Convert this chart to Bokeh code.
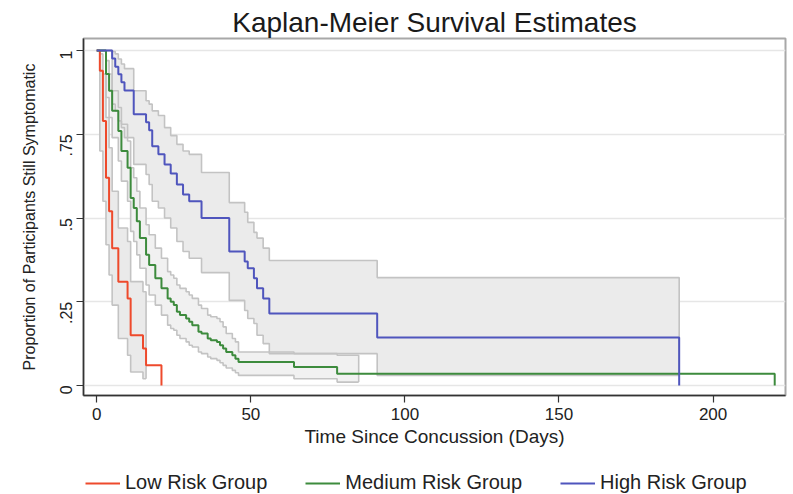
import math
from bokeh.plotting import figure
from bokeh.layouts import column
from bokeh.models import Range1d, FixedTicker, Legend, LegendItem
from bokeh.embed import file_html
from bokeh.resources import INLINE

FONT = "Liberation Sans"

# Kaplan-Meier estimates: event day and survival proportion after that day
low_days = [0, 1, 2, 3, 4, 5, 7, 10, 11, 15, 16, 21]
low_surv = [1.0, 0.94, 0.79, 0.62, 0.52, 0.41, 0.31, 0.26, 0.15, 0.11, 0.06, 0.0]

med_days = [0, 3, 4, 5, 7, 8, 10, 11, 12, 13, 14, 16, 17, 19, 21, 23, 24, 25, 26, 27,
            29, 30, 31, 33, 34, 36, 37, 39, 40, 41, 42, 44, 45, 46, 64, 78, 220]
med_surv = [1.0, 0.93, 0.88, 0.82, 0.76, 0.70, 0.65, 0.56, 0.53, 0.49, 0.44, 0.39, 0.36,
            0.32, 0.29, 0.26, 0.25, 0.24, 0.22, 0.21, 0.20, 0.19, 0.18, 0.16, 0.155, 0.14,
            0.135, 0.13, 0.12, 0.11, 0.10, 0.09, 0.08, 0.07, 0.055, 0.035, 0.0]

high_days = [0, 5, 6, 7, 8, 9, 12, 16, 17, 18, 20, 22, 24, 26, 28, 30, 34, 43, 48, 49,
             51, 52, 54, 56, 91, 189]
high_surv = [1.0, 0.976, 0.952, 0.929, 0.905, 0.881, 0.81, 0.786, 0.762, 0.714, 0.69,
             0.66, 0.633, 0.60, 0.57, 0.55, 0.50, 0.40, 0.37, 0.35, 0.32, 0.29, 0.26,
             0.215, 0.143, 0.0]

# 95% confidence bands: day, lower and upper bound (last day closes the band)
low_ci_days = [0, 1, 2, 3, 4, 5, 7, 10, 11, 15, 16]
low_ci_lo = [1.0, 0.70, 0.55, 0.42, 0.33, 0.24, 0.14, 0.09, 0.04, 0.02, 0.02]
low_ci_hi = [1.0, 0.99, 0.93, 0.80, 0.71, 0.58, 0.47, 0.43, 0.31, 0.28, 0.28]

med_ci_days = [0, 3, 4, 5, 7, 8, 10, 11, 12, 13, 14, 16, 17, 19, 21, 23, 24, 25, 26, 27,
               29, 30, 31, 33, 34, 36, 37, 39, 40, 41, 42, 44, 45, 46, 64, 78, 85]
med_ci_lo = [1.0, 0.86, 0.80, 0.74, 0.67, 0.61, 0.55, 0.46, 0.43, 0.39, 0.35, 0.30, 0.27,
             0.24, 0.21, 0.18, 0.17, 0.165, 0.15, 0.14, 0.13, 0.12, 0.115, 0.10, 0.095,
             0.085, 0.08, 0.075, 0.068, 0.06, 0.052, 0.045, 0.038, 0.03, 0.02, 0.01, 0.01]
med_ci_hi = [1.0, 0.97, 0.93, 0.88, 0.83, 0.78, 0.73, 0.65, 0.62, 0.58, 0.53, 0.48, 0.45,
             0.41, 0.38, 0.34, 0.33, 0.32, 0.30, 0.29, 0.28, 0.27, 0.26, 0.24, 0.23, 0.21,
             0.205, 0.20, 0.19, 0.175, 0.155, 0.14, 0.13, 0.10, 0.095, 0.09, 0.09]

high_ci_days = [0, 5, 6, 7, 8, 9, 12, 16, 17, 18, 20, 22, 24, 26, 28, 30, 34, 43, 48, 49,
                51, 52, 54, 56, 91, 189]
high_ci_lo = [1.0, 0.84, 0.82, 0.79, 0.77, 0.74, 0.66, 0.63, 0.60, 0.55, 0.53, 0.50, 0.47,
              0.43, 0.40, 0.38, 0.337, 0.254, 0.224, 0.20, 0.185, 0.15, 0.125, 0.095, 0.03,
              0.03]
high_ci_hi = [1.0, 0.997, 0.99, 0.975, 0.96, 0.946, 0.88, 0.85, 0.84, 0.82, 0.806, 0.77,
              0.746, 0.72, 0.70, 0.69, 0.636, 0.546, 0.517, 0.487, 0.457, 0.44, 0.41, 0.373,
              0.322, 0.322]

group_labels = ["Low Risk Group", "Medium Risk Group", "High Risk Group"]
x_ticks = [0, 50, 100, 150, 200]
y_ticks = [0, 0.25, 0.5, 0.75, 1]
y_tick_labels = ["0", ".25", ".5", ".75", "1"]

RED, GREEN, BLUE = "#ee4a2c", "#3d8b3d", "#4f55bd"
EDGE = "#c3c3c3"

p = figure(width=793, height=452, output_backend="svg", toolbar_location=None,
           x_range=Range1d(-4.3, 223.5), y_range=Range1d(-0.03, 1.036),
           min_border_left=83, min_border_right=8, min_border_top=38,
           min_border_bottom=57, title="Kaplan-Meier Survival Estimates")
p.background_fill_color = "white"
p.border_fill_color = "white"
p.outline_line_color = "#a8a8a8"
p.outline_line_width = 2

p.title.align = "center"
p.title.text_font = FONT
p.title.text_font_size = "28px"
p.title.text_font_style = "normal"
p.title.text_color = "#1a1a1a"
p.title.standoff = 2

# confidence bands: fills first so every edge stays visible on top
bands = [(low_ci_days, low_ci_lo, low_ci_hi, "#eaeaea"),
         (med_ci_days, med_ci_lo, med_ci_hi, "#f1f1f1"),
         (high_ci_days, high_ci_lo, high_ci_hi, "#ebebeb")]
for days, lo, hi, fill in bands:
    p.varea_step(x=days, y1=lo, y2=hi, step_mode="after", fill_color=fill)
for days, lo, hi, fill in bands:
    p.step(days, lo, mode="after", line_color=EDGE, line_width=1.6)
    p.step(days, hi[:-1] + [lo[-1]], mode="after", line_color=EDGE, line_width=1.6)

p.step(low_days, low_surv, mode="after", line_color=RED, line_width=2)
p.step(med_days, med_surv, mode="after", line_color=GREEN, line_width=2)
p.step(high_days, high_surv, mode="after", line_color=BLUE, line_width=2)

# axes
p.xgrid.visible = False
p.ygrid.ticker = FixedTicker(ticks=y_ticks)
p.ygrid.grid_line_color = "#e6e6e6"
p.ygrid.grid_line_width = 1.5

p.xaxis.ticker = FixedTicker(ticks=x_ticks)
p.yaxis.ticker = FixedTicker(ticks=y_ticks)
p.yaxis.major_label_overrides = {t: s for t, s in zip(y_ticks, y_tick_labels)}
p.yaxis.major_label_orientation = math.pi / 2

p.xaxis.axis_label = "Time Since Concussion (Days)"
p.yaxis.axis_label = "Proportion of Participants Still Symptomatic"

for ax in (p.xaxis, p.yaxis):
    ax.axis_line_color = "#333333"
    ax.axis_line_width = 1.5
    ax.major_tick_line_color = "#333333"
    ax.major_tick_line_width = 1.2
    ax.major_tick_out = 7
    ax.major_tick_in = 0
    ax.minor_tick_line_color = None
    ax.major_label_text_font = FONT
    ax.major_label_text_color = "#222222"
    ax.axis_label_text_font = FONT
    ax.axis_label_text_font_style = "normal"
    ax.axis_label_text_color = "#222222"

p.xaxis.major_label_text_font_size = "17px"
p.xaxis.major_label_standoff = 5
p.xaxis.axis_label_text_font_size = "19px"
p.xaxis.axis_label_standoff = 3
p.yaxis.major_label_text_font_size = "16px"
p.yaxis.major_label_standoff = 10
p.yaxis.axis_label_text_font_size = "16px"
p.yaxis.axis_label_standoff = 14

# legend row underneath the chart: a bare strip holding the key for the three groups
key = figure(width=793, height=42, output_backend="svg", toolbar_location=None,
             x_range=Range1d(0, 1), y_range=Range1d(0, 1),
             min_border_left=0, min_border_right=0, min_border_top=0, min_border_bottom=0)
key.axis.visible = False
key.grid.visible = False
key.outline_line_color = None
key.background_fill_color = "white"
key.border_fill_color = "white"
key_items = []
for label, color in zip(group_labels, (RED, GREEN, BLUE)):
    # proxy line kept below the strip's visible range; only its legend swatch shows
    r = key.line(x=[0, 1], y=[-1, -1], line_color=color, line_width=2)
    key_items.append(LegendItem(label=label, renderers=[r]))

legend = Legend(items=key_items, orientation="horizontal", location=(2, 0))
legend.label_text_font = FONT
legend.label_text_font_size = "20px"
legend.label_text_color = "#222222"
legend.glyph_width = 35
legend.glyph_height = 20
legend.label_standoff = 5
legend.spacing = 38
legend.padding = 2
legend.margin = 0
legend.border_line_color = None
legend.background_fill_alpha = 0
key.add_layout(legend)

open("out.html", "w").write(file_html(column(p, key, spacing=0), INLINE))
